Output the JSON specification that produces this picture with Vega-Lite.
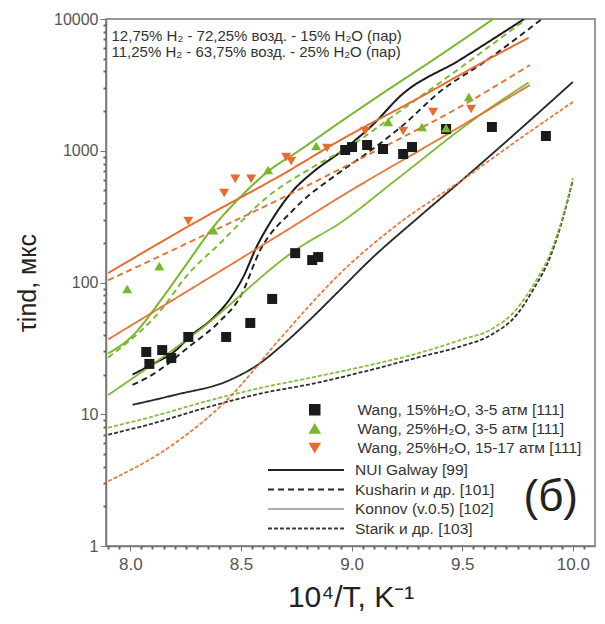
{
  "$schema": "https://vega.github.io/schema/vega-lite/v6.json",
  "width": 489,
  "height": 527,
  "autosize": "none",
  "padding": {"left": 106, "top": 19, "right": 10, "bottom": 78},
  "background": "white",
  "datasets": {
    "pts": [
      {"cond": "Wang, 15%H₂O, 3-5 атм [111]", "x": 8.072, "y": 29.7},
      {"cond": "Wang, 15%H₂O, 3-5 атм [111]", "x": 8.086, "y": 24.1},
      {"cond": "Wang, 15%H₂O, 3-5 атм [111]", "x": 8.144, "y": 30.7},
      {"cond": "Wang, 15%H₂O, 3-5 атм [111]", "x": 8.185, "y": 26.7},
      {"cond": "Wang, 15%H₂O, 3-5 атм [111]", "x": 8.262, "y": 38.6},
      {"cond": "Wang, 15%H₂O, 3-5 атм [111]", "x": 8.433, "y": 38.6},
      {"cond": "Wang, 15%H₂O, 3-5 атм [111]", "x": 8.542, "y": 49.3},
      {"cond": "Wang, 15%H₂O, 3-5 атм [111]", "x": 8.641, "y": 75},
      {"cond": "Wang, 15%H₂O, 3-5 атм [111]", "x": 8.745, "y": 167},
      {"cond": "Wang, 15%H₂O, 3-5 атм [111]", "x": 8.822, "y": 148},
      {"cond": "Wang, 15%H₂O, 3-5 атм [111]", "x": 8.849, "y": 156},
      {"cond": "Wang, 15%H₂O, 3-5 атм [111]", "x": 8.971, "y": 1013},
      {"cond": "Wang, 15%H₂O, 3-5 атм [111]", "x": 9.002, "y": 1067},
      {"cond": "Wang, 15%H₂O, 3-5 атм [111]", "x": 9.07, "y": 1106},
      {"cond": "Wang, 15%H₂O, 3-5 атм [111]", "x": 9.142, "y": 1031},
      {"cond": "Wang, 15%H₂O, 3-5 атм [111]", "x": 9.233, "y": 945},
      {"cond": "Wang, 15%H₂O, 3-5 атм [111]", "x": 9.273, "y": 1067},
      {"cond": "Wang, 15%H₂O, 3-5 атм [111]", "x": 9.427, "y": 1462},
      {"cond": "Wang, 15%H₂O, 3-5 атм [111]", "x": 9.634, "y": 1514},
      {"cond": "Wang, 15%H₂O, 3-5 атм [111]", "x": 9.878, "y": 1294},
      {"cond": "Wang, 25%H₂O, 3-5 атм [111]", "x": 7.986, "y": 89.3},
      {"cond": "Wang, 25%H₂O, 3-5 атм [111]", "x": 8.131, "y": 133},
      {"cond": "Wang, 25%H₂O, 3-5 атм [111]", "x": 8.375, "y": 250},
      {"cond": "Wang, 25%H₂O, 3-5 атм [111]", "x": 8.623, "y": 714},
      {"cond": "Wang, 25%H₂O, 3-5 атм [111]", "x": 8.84, "y": 1087},
      {"cond": "Wang, 25%H₂O, 3-5 атм [111]", "x": 9.165, "y": 1652},
      {"cond": "Wang, 25%H₂O, 3-5 атм [111]", "x": 9.318, "y": 1514},
      {"cond": "Wang, 25%H₂O, 3-5 атм [111]", "x": 9.427, "y": 1489},
      {"cond": "Wang, 25%H₂O, 3-5 атм [111]", "x": 9.53, "y": 2558},
      {"cond": "Wang, 25%H₂O, 15-17 атм [111]", "x": 8.262, "y": 293},
      {"cond": "Wang, 25%H₂O, 15-17 атм [111]", "x": 8.424, "y": 478},
      {"cond": "Wang, 25%H₂O, 15-17 атм [111]", "x": 8.474, "y": 611},
      {"cond": "Wang, 25%H₂O, 15-17 атм [111]", "x": 8.546, "y": 611},
      {"cond": "Wang, 25%H₂O, 15-17 атм [111]", "x": 8.704, "y": 897},
      {"cond": "Wang, 25%H₂O, 15-17 атм [111]", "x": 8.727, "y": 836},
      {"cond": "Wang, 25%H₂O, 15-17 атм [111]", "x": 8.889, "y": 1050},
      {"cond": "Wang, 25%H₂O, 15-17 атм [111]", "x": 9.061, "y": 1413},
      {"cond": "Wang, 25%H₂O, 15-17 атм [111]", "x": 9.233, "y": 1413},
      {"cond": "Wang, 25%H₂O, 15-17 атм [111]", "x": 9.368, "y": 1968},
      {"cond": "Wang, 25%H₂O, 15-17 атм [111]", "x": 9.54, "y": 2075}
    ],
    "lines": [
      {"cond": "Wang, 15%H₂O, 3-5 атм [111]", "model": "NUI Galway [99]", "x": 8.01, "y": 20},
      {"cond": "Wang, 15%H₂O, 3-5 атм [111]", "model": "NUI Galway [99]", "x": 8.1, "y": 24},
      {"cond": "Wang, 15%H₂O, 3-5 атм [111]", "model": "NUI Galway [99]", "x": 8.2, "y": 30},
      {"cond": "Wang, 15%H₂O, 3-5 атм [111]", "model": "NUI Galway [99]", "x": 8.27, "y": 39},
      {"cond": "Wang, 15%H₂O, 3-5 атм [111]", "model": "NUI Galway [99]", "x": 8.375, "y": 54},
      {"cond": "Wang, 15%H₂O, 3-5 атм [111]", "model": "NUI Galway [99]", "x": 8.45, "y": 75},
      {"cond": "Wang, 15%H₂O, 3-5 атм [111]", "model": "NUI Galway [99]", "x": 8.51, "y": 110},
      {"cond": "Wang, 15%H₂O, 3-5 атм [111]", "model": "NUI Galway [99]", "x": 8.573, "y": 190},
      {"cond": "Wang, 15%H₂O, 3-5 атм [111]", "model": "NUI Galway [99]", "x": 8.632, "y": 285},
      {"cond": "Wang, 15%H₂O, 3-5 атм [111]", "model": "NUI Galway [99]", "x": 8.736, "y": 500},
      {"cond": "Wang, 15%H₂O, 3-5 атм [111]", "model": "NUI Galway [99]", "x": 8.826, "y": 690},
      {"cond": "Wang, 15%H₂O, 3-5 атм [111]", "model": "NUI Galway [99]", "x": 8.95, "y": 980},
      {"cond": "Wang, 15%H₂O, 3-5 атм [111]", "model": "NUI Galway [99]", "x": 9.1, "y": 1600},
      {"cond": "Wang, 15%H₂O, 3-5 атм [111]", "model": "NUI Galway [99]", "x": 9.22, "y": 2600},
      {"cond": "Wang, 15%H₂O, 3-5 атм [111]", "model": "NUI Galway [99]", "x": 9.49, "y": 4900},
      {"cond": "Wang, 15%H₂O, 3-5 атм [111]", "model": "NUI Galway [99]", "x": 9.78, "y": 10000},
      {"cond": "Wang, 15%H₂O, 3-5 атм [111]", "model": "Kusharin и др. [101]", "x": 8.01, "y": 16.7},
      {"cond": "Wang, 15%H₂O, 3-5 атм [111]", "model": "Kusharin и др. [101]", "x": 8.1, "y": 20},
      {"cond": "Wang, 15%H₂O, 3-5 атм [111]", "model": "Kusharin и др. [101]", "x": 8.27, "y": 33},
      {"cond": "Wang, 15%H₂O, 3-5 атм [111]", "model": "Kusharin и др. [101]", "x": 8.4, "y": 50},
      {"cond": "Wang, 15%H₂O, 3-5 атм [111]", "model": "Kusharin и др. [101]", "x": 8.497, "y": 78},
      {"cond": "Wang, 15%H₂O, 3-5 атм [111]", "model": "Kusharin и др. [101]", "x": 8.587, "y": 176},
      {"cond": "Wang, 15%H₂O, 3-5 атм [111]", "model": "Kusharin и др. [101]", "x": 8.736, "y": 355},
      {"cond": "Wang, 15%H₂O, 3-5 атм [111]", "model": "Kusharin и др. [101]", "x": 8.948, "y": 690},
      {"cond": "Wang, 15%H₂O, 3-5 атм [111]", "model": "Kusharin и др. [101]", "x": 9.07, "y": 960},
      {"cond": "Wang, 15%H₂O, 3-5 атм [111]", "model": "Kusharin и др. [101]", "x": 9.22, "y": 1500},
      {"cond": "Wang, 15%H₂O, 3-5 атм [111]", "model": "Kusharin и др. [101]", "x": 9.41, "y": 2900},
      {"cond": "Wang, 15%H₂O, 3-5 атм [111]", "model": "Kusharin и др. [101]", "x": 9.59, "y": 4600},
      {"cond": "Wang, 15%H₂O, 3-5 атм [111]", "model": "Kusharin и др. [101]", "x": 9.86, "y": 10000},
      {"cond": "Wang, 15%H₂O, 3-5 атм [111]", "model": "Konnov (v.0.5) [102]", "x": 8.01, "y": 11.8},
      {"cond": "Wang, 15%H₂O, 3-5 атм [111]", "model": "Konnov (v.0.5) [102]", "x": 8.2, "y": 14},
      {"cond": "Wang, 15%H₂O, 3-5 атм [111]", "model": "Konnov (v.0.5) [102]", "x": 8.45, "y": 18.2},
      {"cond": "Wang, 15%H₂O, 3-5 атм [111]", "model": "Konnov (v.0.5) [102]", "x": 8.58, "y": 24},
      {"cond": "Wang, 15%H₂O, 3-5 атм [111]", "model": "Konnov (v.0.5) [102]", "x": 8.677, "y": 32.4},
      {"cond": "Wang, 15%H₂O, 3-5 атм [111]", "model": "Konnov (v.0.5) [102]", "x": 8.8, "y": 50},
      {"cond": "Wang, 15%H₂O, 3-5 атм [111]", "model": "Konnov (v.0.5) [102]", "x": 8.948, "y": 88},
      {"cond": "Wang, 15%H₂O, 3-5 атм [111]", "model": "Konnov (v.0.5) [102]", "x": 9.083, "y": 148},
      {"cond": "Wang, 15%H₂O, 3-5 атм [111]", "model": "Konnov (v.0.5) [102]", "x": 9.3, "y": 310},
      {"cond": "Wang, 15%H₂O, 3-5 атм [111]", "model": "Konnov (v.0.5) [102]", "x": 9.5, "y": 600},
      {"cond": "Wang, 15%H₂O, 3-5 атм [111]", "model": "Konnov (v.0.5) [102]", "x": 9.75, "y": 1400},
      {"cond": "Wang, 15%H₂O, 3-5 атм [111]", "model": "Konnov (v.0.5) [102]", "x": 10.0, "y": 3330},
      {"cond": "Wang, 15%H₂O, 3-5 атм [111]", "model": "Starik и др. [103]", "x": 7.9, "y": 7.0},
      {"cond": "Wang, 15%H₂O, 3-5 атм [111]", "model": "Starik и др. [103]", "x": 8.1, "y": 8.5},
      {"cond": "Wang, 15%H₂O, 3-5 атм [111]", "model": "Starik и др. [103]", "x": 8.34, "y": 11.2},
      {"cond": "Wang, 15%H₂O, 3-5 атм [111]", "model": "Starik и др. [103]", "x": 8.6, "y": 14.5},
      {"cond": "Wang, 15%H₂O, 3-5 атм [111]", "model": "Starik и др. [103]", "x": 8.82, "y": 17},
      {"cond": "Wang, 15%H₂O, 3-5 атм [111]", "model": "Starik и др. [103]", "x": 9.1, "y": 22},
      {"cond": "Wang, 15%H₂O, 3-5 атм [111]", "model": "Starik и др. [103]", "x": 9.3, "y": 27},
      {"cond": "Wang, 15%H₂O, 3-5 атм [111]", "model": "Starik и др. [103]", "x": 9.5, "y": 33},
      {"cond": "Wang, 15%H₂O, 3-5 атм [111]", "model": "Starik и др. [103]", "x": 9.63, "y": 40},
      {"cond": "Wang, 15%H₂O, 3-5 атм [111]", "model": "Starik и др. [103]", "x": 9.75, "y": 58},
      {"cond": "Wang, 15%H₂O, 3-5 атм [111]", "model": "Starik и др. [103]", "x": 9.82, "y": 88},
      {"cond": "Wang, 15%H₂O, 3-5 атм [111]", "model": "Starik и др. [103]", "x": 9.9, "y": 160},
      {"cond": "Wang, 15%H₂O, 3-5 атм [111]", "model": "Starik и др. [103]", "x": 9.96, "y": 330},
      {"cond": "Wang, 15%H₂O, 3-5 атм [111]", "model": "Starik и др. [103]", "x": 10.0, "y": 600},
      {"cond": "Wang, 25%H₂O, 3-5 атм [111]", "model": "NUI Galway [99]", "x": 7.9, "y": 29},
      {"cond": "Wang, 25%H₂O, 3-5 атм [111]", "model": "NUI Galway [99]", "x": 8.0, "y": 38},
      {"cond": "Wang, 25%H₂O, 3-5 атм [111]", "model": "NUI Galway [99]", "x": 8.149, "y": 78},
      {"cond": "Wang, 25%H₂O, 3-5 атм [111]", "model": "NUI Galway [99]", "x": 8.25, "y": 135},
      {"cond": "Wang, 25%H₂O, 3-5 атм [111]", "model": "NUI Galway [99]", "x": 8.375, "y": 264},
      {"cond": "Wang, 25%H₂O, 3-5 атм [111]", "model": "NUI Galway [99]", "x": 8.5, "y": 450},
      {"cond": "Wang, 25%H₂O, 3-5 атм [111]", "model": "NUI Galway [99]", "x": 8.619, "y": 690},
      {"cond": "Wang, 25%H₂O, 3-5 атм [111]", "model": "NUI Galway [99]", "x": 8.767, "y": 1013},
      {"cond": "Wang, 25%H₂O, 3-5 атм [111]", "model": "NUI Galway [99]", "x": 8.948, "y": 1650},
      {"cond": "Wang, 25%H₂O, 3-5 атм [111]", "model": "NUI Galway [99]", "x": 9.15, "y": 2800},
      {"cond": "Wang, 25%H₂O, 3-5 атм [111]", "model": "NUI Galway [99]", "x": 9.368, "y": 4886},
      {"cond": "Wang, 25%H₂O, 3-5 атм [111]", "model": "NUI Galway [99]", "x": 9.64, "y": 10000},
      {"cond": "Wang, 25%H₂O, 3-5 атм [111]", "model": "Kusharin и др. [101]", "x": 7.9, "y": 27},
      {"cond": "Wang, 25%H₂O, 3-5 атм [111]", "model": "Kusharin и др. [101]", "x": 8.149, "y": 65},
      {"cond": "Wang, 25%H₂O, 3-5 атм [111]", "model": "Kusharin и др. [101]", "x": 8.25, "y": 110},
      {"cond": "Wang, 25%H₂O, 3-5 атм [111]", "model": "Kusharin и др. [101]", "x": 8.406, "y": 199},
      {"cond": "Wang, 25%H₂O, 3-5 атм [111]", "model": "Kusharin и др. [101]", "x": 8.619, "y": 446},
      {"cond": "Wang, 25%H₂O, 3-5 атм [111]", "model": "Kusharin и др. [101]", "x": 8.826, "y": 753},
      {"cond": "Wang, 25%H₂O, 3-5 атм [111]", "model": "Kusharin и др. [101]", "x": 9.0, "y": 1100},
      {"cond": "Wang, 25%H₂O, 3-5 атм [111]", "model": "Kusharin и др. [101]", "x": 9.2, "y": 1900},
      {"cond": "Wang, 25%H₂O, 3-5 атм [111]", "model": "Kusharin и др. [101]", "x": 9.4, "y": 3300},
      {"cond": "Wang, 25%H₂O, 3-5 атм [111]", "model": "Kusharin и др. [101]", "x": 9.6, "y": 5800},
      {"cond": "Wang, 25%H₂O, 3-5 атм [111]", "model": "Kusharin и др. [101]", "x": 9.79, "y": 10000},
      {"cond": "Wang, 25%H₂O, 3-5 атм [111]", "model": "Konnov (v.0.5) [102]", "x": 7.9, "y": 14},
      {"cond": "Wang, 25%H₂O, 3-5 атм [111]", "model": "Konnov (v.0.5) [102]", "x": 8.3, "y": 42},
      {"cond": "Wang, 25%H₂O, 3-5 атм [111]", "model": "Konnov (v.0.5) [102]", "x": 8.767, "y": 186},
      {"cond": "Wang, 25%H₂O, 3-5 атм [111]", "model": "Konnov (v.0.5) [102]", "x": 8.948, "y": 283},
      {"cond": "Wang, 25%H₂O, 3-5 атм [111]", "model": "Konnov (v.0.5) [102]", "x": 9.2, "y": 600},
      {"cond": "Wang, 25%H₂O, 3-5 атм [111]", "model": "Konnov (v.0.5) [102]", "x": 9.567, "y": 1800},
      {"cond": "Wang, 25%H₂O, 3-5 атм [111]", "model": "Konnov (v.0.5) [102]", "x": 9.8, "y": 3300},
      {"cond": "Wang, 25%H₂O, 3-5 атм [111]", "model": "Starik и др. [103]", "x": 7.9, "y": 7.9},
      {"cond": "Wang, 25%H₂O, 3-5 атм [111]", "model": "Starik и др. [103]", "x": 8.1, "y": 9.6},
      {"cond": "Wang, 25%H₂O, 3-5 атм [111]", "model": "Starik и др. [103]", "x": 8.34, "y": 12.5},
      {"cond": "Wang, 25%H₂O, 3-5 атм [111]", "model": "Starik и др. [103]", "x": 8.6, "y": 16},
      {"cond": "Wang, 25%H₂O, 3-5 атм [111]", "model": "Starik и др. [103]", "x": 8.82, "y": 19},
      {"cond": "Wang, 25%H₂O, 3-5 атм [111]", "model": "Starik и др. [103]", "x": 9.1, "y": 24},
      {"cond": "Wang, 25%H₂O, 3-5 атм [111]", "model": "Starik и др. [103]", "x": 9.3, "y": 29},
      {"cond": "Wang, 25%H₂O, 3-5 атм [111]", "model": "Starik и др. [103]", "x": 9.5, "y": 37},
      {"cond": "Wang, 25%H₂O, 3-5 атм [111]", "model": "Starik и др. [103]", "x": 9.63, "y": 44},
      {"cond": "Wang, 25%H₂O, 3-5 атм [111]", "model": "Starik и др. [103]", "x": 9.75, "y": 64},
      {"cond": "Wang, 25%H₂O, 3-5 атм [111]", "model": "Starik и др. [103]", "x": 9.82, "y": 95},
      {"cond": "Wang, 25%H₂O, 3-5 атм [111]", "model": "Starik и др. [103]", "x": 9.9, "y": 170},
      {"cond": "Wang, 25%H₂O, 3-5 атм [111]", "model": "Starik и др. [103]", "x": 9.96, "y": 340},
      {"cond": "Wang, 25%H₂O, 3-5 атм [111]", "model": "Starik и др. [103]", "x": 10.0, "y": 620},
      {"cond": "Wang, 25%H₂O, 15-17 атм [111]", "model": "NUI Galway [99]", "x": 7.9, "y": 118},
      {"cond": "Wang, 25%H₂O, 15-17 атм [111]", "model": "NUI Galway [99]", "x": 8.3, "y": 290},
      {"cond": "Wang, 25%H₂O, 15-17 атм [111]", "model": "NUI Galway [99]", "x": 8.7, "y": 680},
      {"cond": "Wang, 25%H₂O, 15-17 атм [111]", "model": "NUI Galway [99]", "x": 8.948, "y": 1200},
      {"cond": "Wang, 25%H₂O, 15-17 атм [111]", "model": "NUI Galway [99]", "x": 9.3, "y": 2500},
      {"cond": "Wang, 25%H₂O, 15-17 атм [111]", "model": "NUI Galway [99]", "x": 9.612, "y": 4886},
      {"cond": "Wang, 25%H₂O, 15-17 атм [111]", "model": "NUI Galway [99]", "x": 9.8, "y": 7200},
      {"cond": "Wang, 25%H₂O, 15-17 атм [111]", "model": "Kusharin и др. [101]", "x": 7.9, "y": 104},
      {"cond": "Wang, 25%H₂O, 15-17 атм [111]", "model": "Kusharin и др. [101]", "x": 8.3, "y": 215},
      {"cond": "Wang, 25%H₂O, 15-17 атм [111]", "model": "Kusharin и др. [101]", "x": 8.7, "y": 450},
      {"cond": "Wang, 25%H₂O, 15-17 атм [111]", "model": "Kusharin и др. [101]", "x": 9.1, "y": 980},
      {"cond": "Wang, 25%H₂O, 15-17 атм [111]", "model": "Kusharin и др. [101]", "x": 9.5, "y": 2200},
      {"cond": "Wang, 25%H₂O, 15-17 атм [111]", "model": "Kusharin и др. [101]", "x": 9.806, "y": 4477},
      {"cond": "Wang, 25%H₂O, 15-17 атм [111]", "model": "Konnov (v.0.5) [102]", "x": 7.9, "y": 37},
      {"cond": "Wang, 25%H₂O, 15-17 атм [111]", "model": "Konnov (v.0.5) [102]", "x": 8.3, "y": 95},
      {"cond": "Wang, 25%H₂O, 15-17 атм [111]", "model": "Konnov (v.0.5) [102]", "x": 8.7, "y": 245},
      {"cond": "Wang, 25%H₂O, 15-17 атм [111]", "model": "Konnov (v.0.5) [102]", "x": 8.948, "y": 446},
      {"cond": "Wang, 25%H₂O, 15-17 атм [111]", "model": "Konnov (v.0.5) [102]", "x": 9.4, "y": 1240},
      {"cond": "Wang, 25%H₂O, 15-17 атм [111]", "model": "Konnov (v.0.5) [102]", "x": 9.806, "y": 3155},
      {"cond": "Wang, 25%H₂O, 15-17 атм [111]", "model": "Starik и др. [103]", "x": 7.9, "y": 3.1},
      {"cond": "Wang, 25%H₂O, 15-17 атм [111]", "model": "Starik и др. [103]", "x": 8.2, "y": 6},
      {"cond": "Wang, 25%H₂O, 15-17 атм [111]", "model": "Starik и др. [103]", "x": 8.45, "y": 13.5},
      {"cond": "Wang, 25%H₂O, 15-17 атм [111]", "model": "Starik и др. [103]", "x": 8.68, "y": 38},
      {"cond": "Wang, 25%H₂O, 15-17 атм [111]", "model": "Starik и др. [103]", "x": 8.95, "y": 118},
      {"cond": "Wang, 25%H₂O, 15-17 атм [111]", "model": "Starik и др. [103]", "x": 9.2, "y": 270},
      {"cond": "Wang, 25%H₂O, 15-17 атм [111]", "model": "Starik и др. [103]", "x": 9.5, "y": 600},
      {"cond": "Wang, 25%H₂O, 15-17 атм [111]", "model": "Starik и др. [103]", "x": 9.75, "y": 1200},
      {"cond": "Wang, 25%H₂O, 15-17 атм [111]", "model": "Starik и др. [103]", "x": 10.0, "y": 2344}
    ]
  },
  "layer": [
    {
      "data": {"name": "lines"},
      "mark": {"type": "line", "clip": true, "interpolate": "monotone"},
      "encoding": {
        "x": {"field": "x", "type": "quantitative",
              "scale": {"domain": [7.89, 10.1], "nice": false, "zero": false},
              "axis": {"values": [8, 8.5, 9, 9.5, 10], "format": ".1f", "title": "10⁴/T, K⁻¹",
                       "titleFontSize": 30, "titleFontWeight": "normal", "titleColor": "#222",
                       "labelFontSize": 17, "tickSize": 5, "labelPadding": 5, "titlePadding": 10}},
        "y": {"field": "y", "type": "quantitative",
              "scale": {"type": "log", "domain": [1, 10000], "nice": false},
              "axis": {"values": [1, 10, 100, 1000, 10000], "format": "d", "title": "τind, мкс",
                       "titleFontSize": 25, "titleFontWeight": "normal", "titleColor": "#222",
                       "labelFontSize": 16, "tickSize": 6, "labelPadding": 2, "titlePadding": 13}},
        "color": {"field": "cond", "type": "nominal",
                  "scale": {"domain": ["Wang, 15%H₂O, 3-5 атм [111]", "Wang, 25%H₂O, 3-5 атм [111]", "Wang, 25%H₂O, 15-17 атм [111]"],
                            "range": ["#1a1a1a", "#76b82a", "#e66d30"]},
                  "legend": {"orient": "none", "legendX": 201, "legendY": 383, "title": null, "padding": 0,
                             "labelFontSize": 15.5, "labelColor": "#333", "symbolSize": 100, "labelOffset": 35, "rowPadding": 2}},
        "strokeDash": {"field": "model", "type": "nominal",
                       "scale": {"domain": ["NUI Galway [99]", "Kusharin и др. [101]", "Konnov (v.0.5) [102]", "Starik и др. [103]"],
                                 "range": [[1, 0], [6, 4], [1, 0], [4, 2]]},
                       "legend": {"orient": "none", "legendX": 189.5, "legendY": 440.5, "title": null, "padding": 0,
                                  "labelFontSize": 15.5, "labelColor": "#333", "symbolSize": 361, "symbolType": "M-4,0H4",
                                  "symbolStrokeColor": "#222", "symbolFillColor": "transparent",
                                  "labelOffset": 38.5, "rowPadding": 0.5,
                                  "encode": {"symbols": {"update": {
                                    "strokeOpacity": {"signal": "datum.value === 'Konnov (v.0.5) [102]' ? 0.4 : 1"},
                                    "strokeWidth": {"signal": "datum.value === 'NUI Galway [99]' ? 2 : datum.value === 'Konnov (v.0.5) [102]' ? 1.3 : 1.6"}}}}}},
        "strokeWidth": {"field": "model", "type": "nominal",
                        "scale": {"domain": ["NUI Galway [99]", "Kusharin и др. [101]", "Konnov (v.0.5) [102]", "Starik и др. [103]"],
                                  "range": [2, 1.8, 1.3, 1.8]},
                        "legend": {"orient": "none", "legendX": 189.5, "legendY": 440.5, "title": null, "padding": 0,
                                   "labelFontSize": 15.5, "labelColor": "#333", "symbolSize": 361, "symbolType": "M-4,0H4",
                                   "symbolStrokeColor": "#222", "symbolFillColor": "transparent",
                                   "labelOffset": 38.5, "rowPadding": 0.5,
                                   "encode": {"symbols": {"update": {
                                     "strokeOpacity": {"signal": "datum.value === 'Konnov (v.0.5) [102]' ? 0.4 : 1"},
                                     "strokeWidth": {"signal": "datum.value === 'NUI Galway [99]' ? 2 : datum.value === 'Konnov (v.0.5) [102]' ? 1.3 : 1.6"}}}}}},
        "opacity": {"field": "model", "type": "nominal",
                    "scale": {"domain": ["NUI Galway [99]", "Kusharin и др. [101]", "Konnov (v.0.5) [102]", "Starik и др. [103]"],
                              "range": [1, 0.9, 0.45, 0.9]},
                    "legend": {"orient": "none", "legendX": 189.5, "legendY": 440.5, "title": null, "padding": 0,
                               "labelFontSize": 15.5, "labelColor": "#333", "symbolSize": 361, "symbolType": "M-4,0H4",
                               "symbolStrokeColor": "#222", "symbolFillColor": "transparent",
                               "labelOffset": 38.5, "rowPadding": 0.5,
                               "encode": {"symbols": {"update": {
                                 "strokeOpacity": {"signal": "datum.value === 'Konnov (v.0.5) [102]' ? 0.4 : 1"},
                                 "strokeWidth": {"signal": "datum.value === 'NUI Galway [99]' ? 2 : datum.value === 'Konnov (v.0.5) [102]' ? 1.3 : 1.6"}}}}}}
      }
    },
    {
      "data": {"name": "pts"},
      "mark": {"type": "point", "filled": true, "opacity": 1, "size": 100},
      "encoding": {
        "x": {"field": "x", "type": "quantitative",
              "axis": {"values": [7.9, 7.95, 8.05, 8.1, 8.15, 8.2, 8.25, 8.3, 8.35, 8.4, 8.45, 8.55, 8.6, 8.65, 8.7, 8.75, 8.8, 8.85, 8.9, 8.95, 9.05, 9.1, 9.15, 9.2, 9.25, 9.3, 9.35, 9.4, 9.45, 9.55, 9.6, 9.65, 9.7, 9.75, 9.8, 9.85, 9.9, 9.95, 10.05],
                       "labels": false, "domain": false, "title": null, "tickSize": 3, "tickWidth": 2, "tickColor": "#666", "orient": "bottom"}},
        "y": {"field": "y", "type": "quantitative",
              "axis": {"values": [2, 3, 4, 5, 6, 7, 8, 9, 20, 30, 40, 50, 60, 70, 80, 90, 200, 300, 400, 500, 600, 700, 800, 900, 2000, 3000, 4000, 5000, 6000, 7000, 8000, 9000],
                       "labels": false, "domain": false, "title": null, "tickSize": 3, "tickWidth": 2, "tickColor": "#666", "orient": "left"}},
        "color": {"field": "cond", "type": "nominal",
                  "legend": {"orient": "none", "legendX": 201, "legendY": 383, "title": null, "padding": 0,
                             "labelFontSize": 15.5, "labelColor": "#333", "symbolSize": 100, "labelOffset": 35, "rowPadding": 2}},
        "shape": {"field": "cond", "type": "nominal",
                  "scale": {"domain": ["Wang, 15%H₂O, 3-5 атм [111]", "Wang, 25%H₂O, 3-5 атм [111]", "Wang, 25%H₂O, 15-17 атм [111]"],
                            "range": ["square", "triangle-up", "triangle-down"]},
                  "legend": {"orient": "none", "legendX": 201, "legendY": 383, "title": null, "padding": 0,
                             "labelFontSize": 15.5, "labelColor": "#333", "symbolSize": 100, "labelOffset": 35, "rowPadding": 2}}
      }
    },
    {
      "data": {"values": [{}]},
      "mark": {"type": "text", "align": "left", "baseline": "middle", "fontSize": 15, "color": "#333", "lineHeight": 16.5, "font": "Liberation Sans"},
      "encoding": {
        "x": {"datum": 7.915, "type": "quantitative", "axis": null},
        "y": {"datum": 7430, "type": "quantitative", "axis": null},
        "text": {"value": ["12,75% H₂ - 72,25% возд. - 15% H₂O (пар)", "11,25% H₂ - 63,75% возд. - 25% H₂O (пар)"]}
      }
    },
    {
      "data": {"values": [{}]},
      "mark": {"type": "text", "align": "center", "baseline": "middle", "fontSize": 44, "color": "#222", "font": "Liberation Sans"},
      "encoding": {
        "x": {"datum": 9.9, "type": "quantitative", "axis": null},
        "y": {"datum": 2.3, "type": "quantitative", "axis": null},
        "text": {"value": "(б)"}
      }
    }
  ],
  "resolve": {"axis": {"x": "independent", "y": "independent"}},
  "config": {
    "view": {"stroke": "#777", "strokeWidth": 1.5},
    "font": "Liberation Sans",
    "axis": {"labelFont": "Liberation Sans", "titleFont": "Liberation Sans", "labelColor": "#555",
             "domainColor": "#777", "tickColor": "#777", "grid": false, "domainWidth": 1.5},
    "legend": {"labelFont": "Liberation Sans", "labelLimit": 300}
  }
}
